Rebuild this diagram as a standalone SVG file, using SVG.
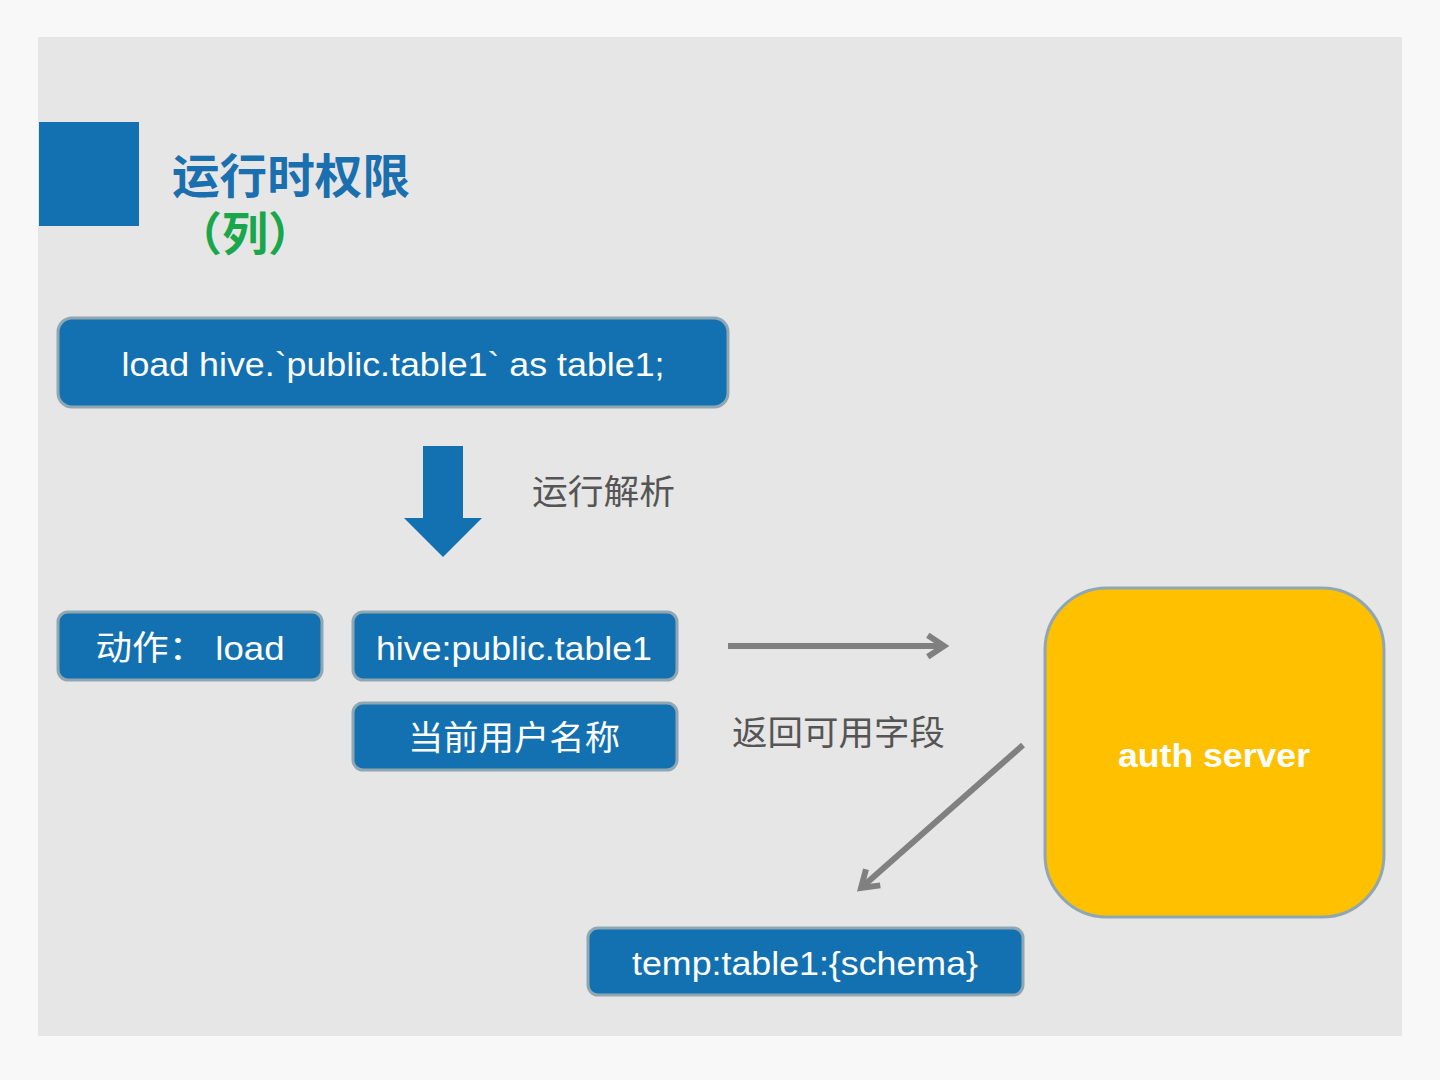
<svg xmlns="http://www.w3.org/2000/svg" width="1440" height="1080" viewBox="0 0 1440 1080">
<defs>
<style>
.box{fill:#1371b1;stroke:#8ea7b3;stroke-width:3}
.wt{fill:#ffffff;font-family:"Liberation Sans","Noto Sans CJK SC",sans-serif;font-size:34px;text-anchor:middle}
.lbl{fill:#555555;font-family:"Noto Sans CJK SC",sans-serif;font-size:34px}
.conn{stroke:#808080;stroke-width:6;fill:none}
</style>
<marker id="chev" viewBox="0 0 10 10" refX="7" refY="5" markerWidth="4.5" markerHeight="4.5" orient="auto" markerUnits="strokeWidth">
<path d="M1,1 L7,5 L1,9" fill="none" stroke="#808080" stroke-width="2.2"/>
</marker>
</defs>
<rect x="0" y="0" width="1440" height="1080" fill="#f8f8f8"/>
<rect x="38" y="37" width="1364" height="999" fill="#e6e6e6"/>
<g id="title">
<rect x="39" y="122" width="100" height="104" fill="#1371b1"/>
<text x="172" y="193" font-family="'Noto Sans CJK SC',sans-serif" font-size="47" font-weight="bold" fill="#1a6fae" textLength="238" lengthAdjust="spacingAndGlyphs">运行时权限</text>
<text x="176" y="250" font-family="'Noto Sans CJK SC',sans-serif" font-size="46" font-weight="bold" fill="#1aa64a">（列）</text>
</g>
<g id="node-load">
<rect class="box" x="58" y="318" width="670" height="89" rx="14"/>
<text class="wt" x="393" y="376" textLength="543" lengthAdjust="spacingAndGlyphs">load hive.`public.table1` as table1;</text>
</g>
<g id="node-action">
<rect class="box" x="58" y="612" width="264" height="68" rx="10"/>
<text class="wt" x="190" y="660" textLength="189" lengthAdjust="spacingAndGlyphs">动作： load</text>
</g>
<g id="node-table">
<rect class="box" x="353" y="612" width="324" height="68" rx="10"/>
<text class="wt" x="514" y="660" textLength="276" lengthAdjust="spacingAndGlyphs">hive:public.table1</text>
</g>
<g id="node-user">
<rect class="box" x="353" y="703" width="324" height="67" rx="10"/>
<text class="wt" x="514" y="750" textLength="212" lengthAdjust="spacingAndGlyphs">当前用户名称</text>
</g>
<g id="node-auth">
<rect x="1045" y="588" width="339" height="329" rx="62" fill="#ffc000" stroke="#8ea7b3" stroke-width="3"/>
<text class="wt" x="1214" y="767" font-weight="bold" textLength="192" lengthAdjust="spacingAndGlyphs">auth server</text>
</g>
<g id="node-temp">
<rect class="box" x="588" y="928" width="435" height="67" rx="10"/>
<text class="wt" x="805" y="975" textLength="346" lengthAdjust="spacingAndGlyphs">temp:table1:{schema}</text>
</g>
<g id="connectors">
<path d="M423,446 H463 V518 H482 L443,557 L404,518 H423 Z" fill="#1371b1"/>
<line class="conn" x1="728" y1="646" x2="944" y2="646" marker-end="url(#chev)"/>
<line class="conn" x1="1023" y1="745" x2="861" y2="888" marker-end="url(#chev)"/>
</g>
<text class="lbl" x="532" y="504" textLength="143" lengthAdjust="spacingAndGlyphs">运行解析</text>
<text class="lbl" x="732" y="745" textLength="213" lengthAdjust="spacingAndGlyphs">返回可用字段</text>
</svg>
